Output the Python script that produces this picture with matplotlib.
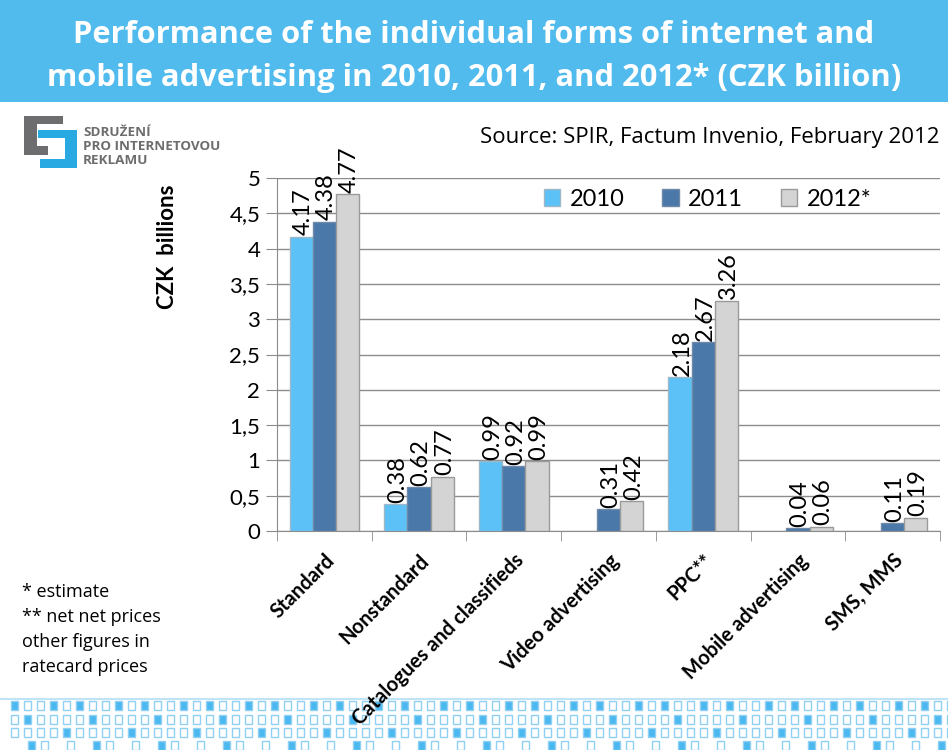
import matplotlib.pyplot as plt
import numpy as np
from matplotlib.patches import Rectangle

plt.rcParams['font.family'] = ['Lato', 'DejaVu Sans']
OPEN = ['Open Sans', 'DejaVu Sans']

categories = ['Standard', 'Nonstandard', 'Catalogues and classifieds', 'Video advertising',
              'PPC**', 'Mobile advertising', 'SMS, MMS']
v2010 = [4.17, 0.38, 0.99, None, 2.18, None, None]
v2011 = [4.38, 0.62, 0.92, 0.31, 2.67, 0.04, 0.11]
v2012 = [4.77, 0.77, 0.99, 0.42, 3.26, 0.06, 0.19]
series = [('2010', v2010, '#5BC1F7', '#9fb8c8'),
          ('2011', v2011, '#4A78A8', '#6f8aa8'),
          ('2012*', v2012, '#D4D4D4', '#9a9a9a')]
yticks = [0, 0.5, 1, 1.5, 2, 2.5, 3, 3.5, 4, 4.5, 5]
ytick_labels = ['0', '0,5', '1', '1,5', '2', '2,5', '3', '3,5', '4', '4,5', '5']

fig = plt.figure(figsize=(9.48, 7.5), dpi=100)

# title banner
fig.patches.append(Rectangle((0, 1 - 102 / 750), 1, 102 / 750, transform=fig.transFigure,
                             facecolor='#52BBEE', edgecolor='none', zorder=0))
fig.text(0.5, 1 - 35 / 750, 'Performance of the individual forms of internet and',
         ha='center', va='center', color='white', fontsize=22.2, fontweight='bold', family=OPEN)
fig.text(0.5, 1 - 78 / 750, 'mobile advertising in 2010, 2011, and 2012* (CZK billion)',
         ha='center', va='center', color='white', fontsize=22.2, fontweight='bold', family=OPEN)

# logo (pixel coords, y from top)
def figrect(x, y, w, h, fc, ec='none', lw=0):
    fig.patches.append(Rectangle((x / 948, 1 - (y + h) / 750), w / 948, h / 750,
                                 transform=fig.transFigure, facecolor=fc, edgecolor=ec, lw=lw))
gray, blue = '#6d6d6f', '#29a9e1'
figrect(24, 116, 39, 8, gray)
figrect(24, 116, 13, 39, gray)
figrect(24, 146, 24, 9, gray)
figrect(38, 130, 39, 8, blue)
figrect(65, 130, 12, 38, blue)
figrect(40, 159, 37, 9, blue)
for i, t in enumerate(['SDRUŽENÍ', 'PRO INTERNETOVOU', 'REKLAMU']):
    fig.text(83 / 948, 1 - (133 + i * 14) / 750, t, fontsize=9.7, fontweight='bold',
             color=gray, va='center', ha='left', family=OPEN)

fig.text(940 / 948, 1 - 138 / 750, 'Source: SPIR, Factum Invenio, February 2012',
         ha='right', va='center', fontsize=16, color='black', family=OPEN)

for i, t in enumerate(['* estimate', '** net net prices', 'other figures in', 'ratecard prices']):
    fig.text(22 / 948, 1 - (592 + i * 25) / 750, t, fontsize=13, va='center', ha='left',
             family=OPEN)

# bottom decoration
fig.add_artist(plt.Line2D([0, 1], [1 - 699 / 750] * 2, transform=fig.transFigure,
                          color='#bfe3f7', lw=1.5))
rows = [('10010', 11, 701), ('01000', 11, 715), ('00001', 11, 728), ('10 0 ', 28, 741)]
for pat, x0, yy in rows:
    k = 0
    xx = x0
    while xx < 948:
        c = pat[k % len(pat)]
        if c != ' ':
            figrect(xx, yy, 7, 9, '#4cb8f0' if c == '1' else 'white', '#8fd0f3', 1.0)
        xx += 13
        k += 1

ax = fig.add_axes([277 / 948, 1 - 531 / 750, 663 / 948, 353 / 750])
ax.set_zorder(5)
x = np.arange(len(categories))
w = 0.245
for j, (name, vals, fc, ec) in enumerate(series):
    pos = x + (j - 1) * w
    hv = [v if v is not None else 0 for v in vals]
    bars = ax.bar(pos, hv, width=w, color=fc, edgecolor=ec, linewidth=1, label=name, zorder=3)
    for b, v in zip(bars, vals):
        if v is None:
            b.set_visible(False)
            continue
        ax.text(b.get_x() + b.get_width() / 2, v + 0.02, f'{v:.2f}', rotation=90,
                rotation_mode='anchor', ha='left', va='center_baseline', fontsize=17)

ax.set_xlim(-0.5, len(categories) - 0.5)
ax.set_ylim(0, 5)
ax.set_yticks(yticks)
ax.set_yticklabels(ytick_labels, fontsize=16)
ax.yaxis.grid(True, color='#8c8c8c', lw=1, zorder=0)
ax.set_axisbelow(True)
ax.set_xticks(np.arange(len(categories) + 1) - 0.5, minor=True)
ax.set_xticks(x)
ax.set_xticklabels(categories, rotation=45, ha='right', rotation_mode='anchor',
                   fontsize=14.5, fontweight='bold')
ax.tick_params(axis='x', which='major', length=0, pad=14)
ax.tick_params(axis='x', which='minor', length=7, color='#8c8c8c')
ax.tick_params(axis='y', length=8, color='#8c8c8c', pad=4)
for s in ['top', 'right']:
    ax.spines[s].set_visible(False)
for s in ['left', 'bottom']:
    ax.spines[s].set_color('#8c8c8c')
ax.set_ylabel('CZK  billions', fontsize=16, fontweight='bold')
ax.yaxis.set_label_coords(-0.149, 0.805)

ax.legend(loc='center left', bbox_to_anchor=(0.37, 0.94), ncol=3, frameon=False,
          fontsize=17, handlelength=0.7, handleheight=0.7, columnspacing=1.6, handletextpad=0.4)

fig.savefig('out.png', dpi=100)
